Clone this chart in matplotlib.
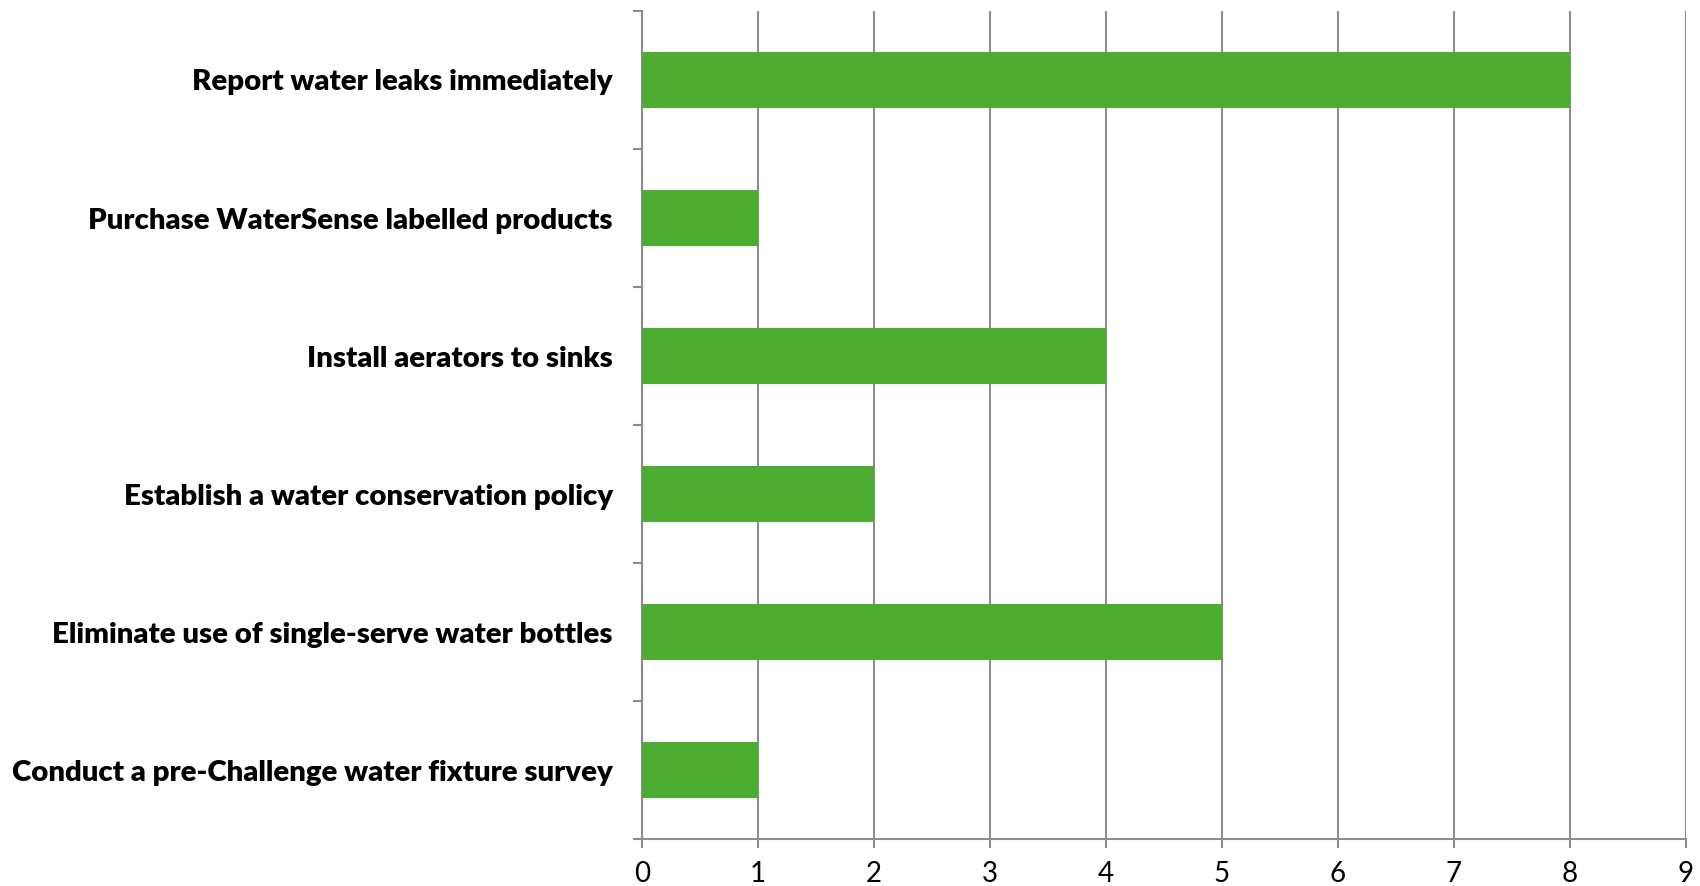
import matplotlib
matplotlib.use("Agg")
import matplotlib.pyplot as plt

categories = [
    "Conduct a pre-Challenge water fixture survey",
    "Eliminate use of single-serve water bottles",
    "Establish a water conservation policy",
    "Install aerators to sinks",
    "Purchase WaterSense labelled products",
    "Report water leaks immediately",
]
values = [1, 5, 2, 4, 1, 8]
x_ticks = list(range(0, 10))

plt.rcParams['font.family'] = ['Lato', 'DejaVu Sans']

fig = plt.figure(figsize=(17, 8.86), dpi=100)
ax = fig.add_axes([0.3776, 0.053, 0.9918 - 0.3776, 0.9876 - 0.053])

grey = "#8c8c8c"
ypos = list(range(len(categories)))
ax.barh(ypos, values, height=0.4, color="#4bac2f", zorder=3)

ax.set_xlim(0, 9)
ax.set_ylim(-0.5, len(categories) - 0.5)
ax.set_xticks(x_ticks)
ax.set_xticklabels([str(t) for t in x_ticks], fontsize=20)
ax.set_yticks(ypos)
ax.set_yticklabels(categories, fontsize=21.2, fontweight="heavy")
ax.set_yticks([y - 0.5 for y in ypos] + [len(categories) - 0.5], minor=True)

ax.tick_params(axis='y', which='major', length=0, pad=21)
ax.tick_params(axis='y', which='minor', length=6.5, color=grey, width=1.5)
ax.tick_params(axis='x', length=6.5, color=grey, width=1.5, pad=9)

ax.grid(axis='x', color=grey, linewidth=1.5, zorder=0)
for s in ['top', 'right']:
    ax.spines[s].set_visible(False)
for s in ['left', 'bottom']:
    ax.spines[s].set_color(grey)
    ax.spines[s].set_linewidth(1.5)

fig.savefig("out.png", dpi=100)
